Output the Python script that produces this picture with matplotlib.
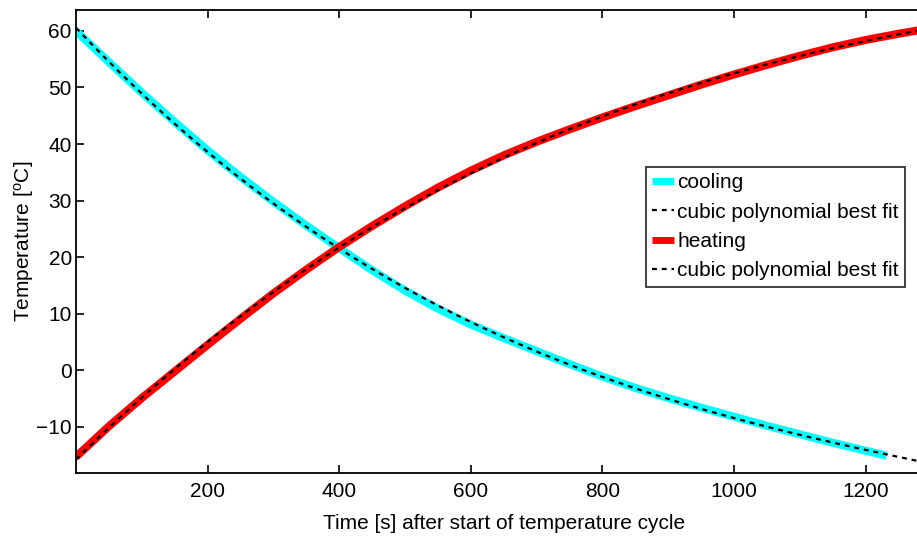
import numpy as np
import matplotlib
matplotlib.use("Agg")
import matplotlib.pyplot as plt

plt.rcParams['font.family'] = ['Liberation Sans', 'DejaVu Sans']
plt.rcParams['mathtext.fontset'] = 'custom'
plt.rcParams['mathtext.rm'] = 'Liberation Sans'
plt.rcParams['mathtext.it'] = 'Liberation Sans'

# Cooling data (time s, temperature C)
cool_t = [0, 50, 100, 150, 200, 250, 300, 350, 400, 450, 500, 550, 600, 650,
          700, 750, 800, 850, 900, 950, 1000, 1050, 1100, 1150, 1200, 1232]
cool_T = [60.0, 54.5, 49.1, 43.9, 38.9, 34.2, 29.8, 25.6, 21.6, 17.7, 14.1,
          10.9, 8.1, 5.7, 3.4, 1.1, -1.1, -3.1, -4.9, -6.6, -8.2, -9.8, -11.3,
          -12.8, -14.2, -15.1]

# Heating data
heat_t = [0, 50, 100, 150, 200, 250, 300, 350, 400, 450, 500, 550, 600, 650,
          700, 750, 800, 850, 900, 950, 1000, 1050, 1100, 1150, 1200, 1250, 1290]
heat_T = [-15.3, -9.9, -4.9, -0.2, 4.5, 9.1, 13.6, 17.8, 21.8, 25.5, 29.0,
          32.3, 35.3, 38.0, 40.4, 42.6, 44.7, 46.7, 48.6, 50.5, 52.3, 54.0,
          55.6, 57.1, 58.4, 59.5, 60.3]

xticks = [200, 400, 600, 800, 1000, 1200]
yticks = [-10, 0, 10, 20, 30, 40, 50, 60]

fig = plt.figure(figsize=(9.17, 5.38), dpi=100)
ax = fig.add_axes([76/917, 1-472.7/538, 1300*0.658/917, (472.7-10)/538])

# cubic fits
cc = np.polyfit(cool_t, cool_T, 3)
hc = np.polyfit(heat_t, heat_T, 3)
tf_c = np.linspace(0, 1320, 300)
tf_h = np.linspace(0, 1320, 300)

ax.plot(cool_t, cool_T, color='#00ffff', lw=5.8, solid_capstyle='butt',
        solid_joinstyle='round', label='cooling')
ax.plot(tf_c, np.polyval(cc, tf_c), color='black', lw=1.6, ls=(0, (2.2, 2.2)),
        label='cubic polynomial best fit')
ax.plot(heat_t, heat_T, color='#ff0000', lw=5.8, solid_capstyle='butt',
        solid_joinstyle='round', label='heating')
ax.plot(tf_h, np.polyval(hc, tf_h), color='black', lw=1.6, ls=(0, (2.2, 2.2)),
        label='cubic polynomial best fit')

ax.set_xlim(0, 1300)
ax.set_ylim(-18.1, 63.7)
ax.set_xticks(xticks)
ax.set_yticks(yticks)
ax.set_yticklabels(['\u221210' if v == -10 else str(v) for v in yticks])
ax.tick_params(direction='in', length=6, width=1.2, labelsize=15, top=True,
               right=True, color='black')
ax.tick_params(axis='x', pad=7)
ax.tick_params(axis='y', pad=3)
for s in ax.spines.values():
    s.set_linewidth(1.3)

ax.set_xlabel('Time [s] after start of temperature cycle', fontsize=15, labelpad=9)
ax.set_ylabel(r'Temperature [$^{\rm o}$C]', fontsize=15, labelpad=0)

leg = ax.legend(loc='upper left', bbox_to_anchor=(646/917, 1-167/538),
                bbox_transform=fig.transFigure, fontsize=15, frameon=True,
                fancybox=False, handlelength=1.05, handletextpad=0.15,
                borderpad=0.3, labelspacing=0.5, borderaxespad=0)
leg.get_frame().set_edgecolor('black')
leg.get_frame().set_linewidth(1.3)
for h in leg.get_lines()[::2]:
    h.set_linewidth(5)

fig.savefig('out.png', dpi=100)
